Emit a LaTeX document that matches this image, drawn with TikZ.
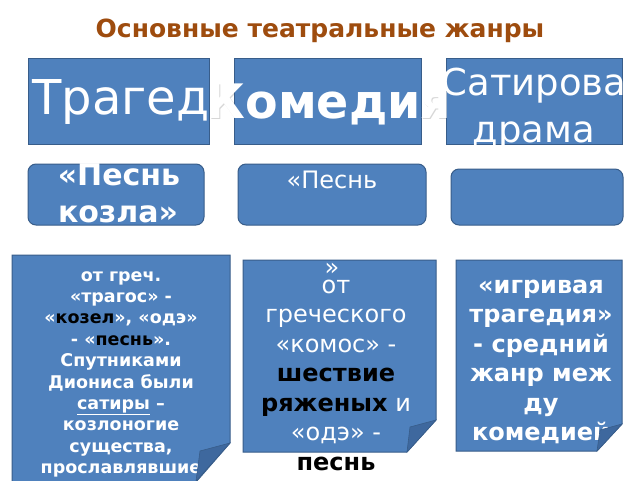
\documentclass[tikz,border=0pt]{standalone}
\usepackage{fontspec}
\setmainfont{DejaVu Sans}
\definecolor{boxblue}{RGB}{79,129,189}
\definecolor{boxedge}{RGB}{56,93,138}
\definecolor{folddark}{RGB}{62,104,158}
\definecolor{titlebrown}{RGB}{158,76,14}
\definecolor{shadowgray}{RGB}{215,215,215}
\tikzset{
  topbox/.style={fill=boxblue, draw=boxedge, line width=1pt},
  roundbox/.style={fill=boxblue, draw=boxedge, line width=1pt, rounded corners=8pt},
  notebox/.style={fill=boxblue, draw=boxedge, line width=1pt},
  foldtri/.style={fill=folddark, draw=boxedge, line width=0.6pt},
  txt/.style={anchor=base, inner sep=0pt, text=white},
  atxt/.style={txt, font=\bfseries\fontsize{17.5}{21}\selectfont},
  btxt/.style={txt, font=\fontsize{24}{29}\selectfont},
  ctxt/.style={txt, font=\bfseries\fontsize{24}{29}\selectfont}
}
\begin{document}
\begin{tikzpicture}[x=1pt,y=-1pt]
\useasboundingbox[fill=white] (0,0) rectangle (640,480);

% title
\node[anchor=base, inner sep=0pt, text=titlebrown, font=\bfseries\fontsize{25}{29}\selectfont] (title) at (320,37) {Основные театральные жанры};

% top boxes
\draw[topbox] (28,58) rectangle (209,144);
\draw[topbox] (234,58) rectangle (421,144);
\draw[topbox] (446,58) rectangle (622,144);
\begin{scope}
  \clip (28,58) rectangle (209,144);
  \node[txt, anchor=base west, font=\fontsize{48}{48}\selectfont] (trag) at (32,114) {Трагед};
\end{scope}
\begin{scope}
  \clip (446,58) rectangle (622,144);
  \node[txt, font=\fontsize{37}{37}\selectfont] (sat1) at (534,95) {Сатирова};
  \node[txt, font=\fontsize{37}{37}\selectfont] (sat2) at (534,142) {драма};
\end{scope}
\begin{scope}
  \clip (209.5,40) rectangle (233.5,150) (421.5,40) rectangle (445.5,150);
  \node[txt, text=shadowgray, font=\bfseries\fontsize{47.5}{47.5}\selectfont] (komsh) at (330,119) {Комедия};
\end{scope}
\node[txt, font=\bfseries\fontsize{47.5}{47.5}\selectfont] (kom) at (329,118) {Комедия};

% second row
\draw[roundbox] (28,164) rectangle (204,225);
\draw[roundbox] (238,164) rectangle (426,225);
\draw[roundbox] (451,169) rectangle (623,225);
\node[txt, font=\bfseries\fontsize{30}{36}\selectfont] (pk1) at (119,185) {«Песнь};
\node[txt, font=\bfseries\fontsize{30}{36}\selectfont] (pk2) at (118,222) {козла»};
\node[txt, font=\fontsize{24}{29}\selectfont] (ps) at (332,188) {«Песнь};

% notes
\draw[notebox] (12,255) -- (230,255) -- (230,443) -- (196,482) -- (12,482) -- cycle;
\draw[notebox] (243,260) -- (436,260) -- (436,420) -- (407,452) -- (243,452) -- cycle;
\draw[notebox] (456,260) -- (622,260) -- (622,424) -- (597,451) -- (456,451) -- cycle;

\foreach \t [count=\i] in {от греч., «трагос» -, {«\textcolor{black}{козел}», «одэ»}, - «\textcolor{black}{песнь}»., Спутниками, Диониса были, \underline{сатиры} –, козлоногие, {существа,}, прославлявшие}
  \node[atxt] (na\i) at (121,{281+(\i-1)*21.4}) {\t};

\node[btxt] (nbq) at (332,275) {»};
\foreach \t [count=\i] in {от, греческого, «комос» -, \textbf{\textcolor{black}{шествие}}, \textbf{\textcolor{black}{ряженых}} и, «одэ» -, \textbf{\textcolor{black}{песнь}}}
  \node[btxt] (nb\i) at (336,{293+(\i-1)*29.5}) {\t};

\foreach \t [count=\i] in {«игривая, трагедия», - средний, жанр меж, ду, комедией}
  \node[ctxt] (nc\i) at (541,{293+(\i-1)*29.5}) {\t};

% folded corners
\draw[foldtri] (230,443) -- (196,481) -- (200,451) -- cycle;
\draw[foldtri] (436,420) -- (407,452) -- (410,427) -- cycle;
\draw[foldtri] (622,424) -- (597,451) -- (600,430) -- cycle;
\end{tikzpicture}
\end{document}
